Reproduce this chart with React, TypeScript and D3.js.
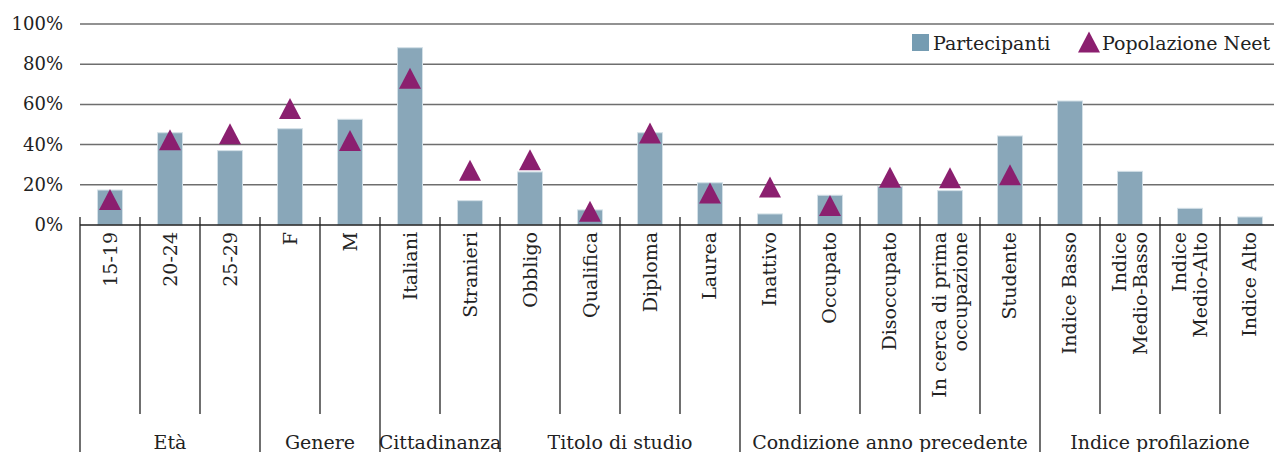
import * as d3 from 'd3';
import { useEffect, useRef } from 'react';

const categories = [
  ['15-19'], ['20-24'], ['25-29'], ['F'], ['M'], ['Italiani'], ['Stranieri'],
  ['Obbligo'], ['Qualifica'], ['Diploma'], ['Laurea'],
  ['Inattivo'], ['Occupato'], ['Disoccupato'], ['In cerca di prima', 'occupazione'], ['Studente'],
  ['Indice Basso'], ['Indice', 'Medio-Basso'], ['Indice', 'Medio-Alto'], ['Indice Alto'],
];
const partecipanti = [17.4, 45.9, 37, 47.9, 52.6, 88.2, 12.1, 26.4, 7.5, 45.9, 21, 5.5, 14.8, 19.1, 17.1, 44.3, 61.7, 26.7, 8.3, 4];
const popolazioneNeet: (number | null)[] = [12.7, 42.4, 45.4, 58, 42.1, 73, 27.2, 32.5, 6.9, 45.8, 15.9, 18.9, 9.7, 23.8, 23.5, 25, null, null, null, null];
const groups = [
  { name: 'Età', size: 3 },
  { name: 'Genere', size: 2 },
  { name: 'Cittadinanza', size: 2 },
  { name: 'Titolo di studio', size: 4 },
  { name: 'Condizione anno precedente', size: 5 },
  { name: 'Indice profilazione', size: 4 },
];
const yTicks = [0, 20, 40, 60, 80, 100];

const W = 1274;
const H = 452;
const FONT = '"DejaVu Serif", serif';

// triangle centred on its bounding box
const TRI = 'M0,-10.5L11,10.5L-11,10.5Z';

const App = () => {
  const ref = useRef<SVGSVGElement>(null);

  useEffect(() => {
    document.body.style.margin = '0';
    const svg = d3.select(ref.current);
    svg.selectAll('*').remove();

    const left = 80;
    const right = 1280;
    const y0 = 225;
    const y100 = 24;

    const keys = categories.map((_, i) => String(i));
    const x = d3.scaleBand().domain(keys).range([left, right]).paddingInner(0.5833).paddingOuter(0.2917);
    const y = d3.scaleLinear().domain([0, 100]).range([y0, y100]);
    const step = x.step();

    // gridlines
    svg.append('g')
      .selectAll('line')
      .data(yTicks.slice(1))
      .enter()
      .append('line')
      .attr('x1', left).attr('x2', W)
      .attr('y1', d => y(d)).attr('y2', d => y(d))
      .attr('stroke', '#6e6e6e').attr('stroke-width', 1.5);

    svg.append('g')
      .selectAll('text')
      .data(yTicks)
      .enter()
      .append('text')
      .attr('x', 63)
      .attr('y', d => y(d) + 6)
      .attr('text-anchor', 'end')
      .attr('font-family', FONT)
      .attr('font-size', 18)
      .attr('fill', '#222')
      .text(d => `${d}%`);

    // bars
    svg.append('g')
      .selectAll('rect')
      .data(partecipanti)
      .enter()
      .append('rect')
      .attr('x', (_, i) => x(String(i))!)
      .attr('y', d => y(d))
      .attr('width', x.bandwidth())
      .attr('height', d => y0 - y(d))
      .attr('fill', '#89a7b9')
      .attr('stroke', '#d3e0e7')
      .attr('stroke-width', 1);

    // axis line
    svg.append('line')
      .attr('x1', left).attr('x2', W)
      .attr('y1', y0).attr('y2', y0)
      .attr('stroke', '#222').attr('stroke-width', 1.5);

    // triangles
    svg.append('g')
      .selectAll('path')
      .data(popolazioneNeet.map((v, i) => ({ v, i })).filter(d => d.v !== null))
      .enter()
      .append('path')
      .attr('d', TRI)
      .attr('transform', d => `translate(${x(String(d.i))! + x.bandwidth() / 2},${y(d.v as number)})`)
      .attr('fill', '#8b1f6f');

    // category separators
    const groupStarts = new Set<number>();
    let acc = 0;
    groups.forEach(g => { groupStarts.add(acc); acc += g.size; });
    const sep = svg.append('g').attr('stroke', '#222').attr('stroke-width', 1.3);
    for (let i = 0; i <= categories.length; i++) {
      const xs = left + i * step;
      sep.append('line')
        .attr('x1', xs).attr('x2', xs)
        .attr('y1', 217)
        .attr('y2', groupStarts.has(i) || i === categories.length ? H : 414);
    }

    // category labels
    const lab = svg.append('g')
      .attr('font-family', FONT)
      .attr('font-size', 19)
      .attr('fill', '#222');
    categories.forEach((lines, i) => {
      const cx = x(String(i))! + x.bandwidth() / 2;
      lines.forEach((line, j) => {
        const lx = cx + (j - (lines.length - 1) / 2) * 21 + 6.5;
        lab.append('text')
          .attr('transform', `translate(${lx},232) rotate(-90)`)
          .attr('text-anchor', 'end')
          .text(line);
      });
    });

    // group labels
    acc = 0;
    groups.forEach(g => {
      const cx = left + (acc + g.size / 2) * step;
      lab.append('text')
        .attr('x', cx)
        .attr('y', 449)
        .attr('text-anchor', 'middle')
        .text(g.name);
      acc += g.size;
    });

    // legend
    const leg = svg.append('g').attr('font-family', FONT).attr('font-size', 19).attr('fill', '#222');
    leg.append('rect').attr('x', 912).attr('y', 34).attr('width', 17).attr('height', 17).attr('fill', '#759cb2');
    leg.append('text').attr('x', 933).attr('y', 50).text('Partecipanti');
    leg.append('path')
      .attr('d', TRI)
      .attr('transform', 'translate(1089,42)')
      .attr('fill', '#8b1f6f');
    leg.append('text').attr('x', 1102).attr('y', 50).text('Popolazione Neet');
  }, []);

  return <svg ref={ref} width={W} height={H} style={{ display: 'block' }} />;
};

export default App;
